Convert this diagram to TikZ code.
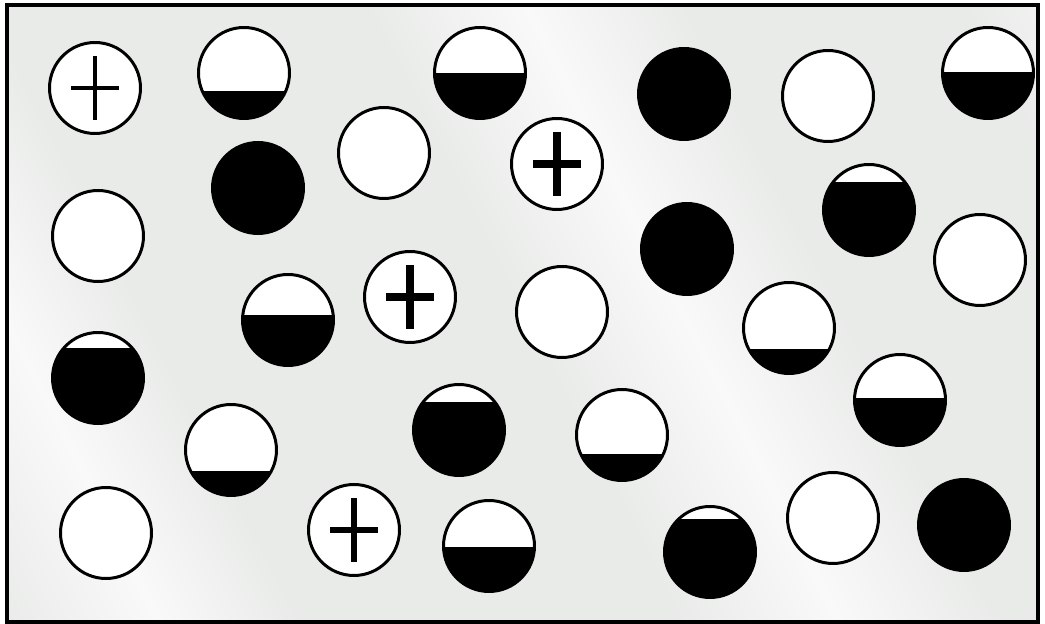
\documentclass[tikz,border=0pt]{standalone}
\usetikzlibrary{positioning}
\definecolor{haze}{RGB}{233,235,233}
\definecolor{glare}{RGB}{248,249,248}
\pgfdeclarehorizontalshading{sheen}{100bp}{color(0bp)=(haze); color(16bp)=(haze);
  color(24bp)=(glare); color(31bp)=(haze); color(50bp)=(haze); color(58bp)=(glare);
  color(66bp)=(haze); color(80bp)=(haze); color(88bp)=(glare); color(100bp)=(haze)}
\tikzset{
  ball/.style={circle,draw=black,line width=1.7pt,fill=white,minimum size=1.82cm,inner sep=0pt},
  dark/.style={ball,fill=black},
  % lower part black, chord #1 px below the centre
  part/.style={ball,path picture={
    \fill[black] (path picture bounding box.west) ++(0,#1) rectangle (path picture bounding box.south east);}},
  plus/.style={ball,path picture={
    \draw[line width=#1] (path picture bounding box.center) ++(0,-32) -- ++(0,64)
      (path picture bounding box.center) ++(-24,0) -- ++(48,0);}},
}

\begin{document}
\begin{tikzpicture}[x=0.02cm,y=-0.02cm]
  \useasboundingbox (0,0) rectangle (1045,624);
  \shade[shading=sheen,shading angle=27] (7,5) rectangle (1038,622);
  \draw[line width=2.3pt] (7,5) rectangle (1038,622);

  % empty
  \foreach \n/\x/\y in {w1/828/96,w2/384/153,w3/98/236,w4/980/260,w5/562/312,w6/106/533,w7/833/518}
    \node[ball] (\n) at (\x,\y) {};
  % full
  \foreach \n/\x/\y in {d1/684/94,d2/258/188,d3/687/249,d4/964/525}
    \node[dark] (\n) at (\x,\y) {};
  % partly full
  \foreach \n/\x/\y/\c in {h1/244/73/18,h2/480/73/0,h3/988/73/-1,h4/869/210/-28,h5/288/320/-5,
      h6/98/378/-30,h7/789/328/21,h8/900/400/-2,h9/231/450/21,h10/459/430/-28,
      h11/622/435/19,h12/489/546/1,h13/710/552/-33}
    \node[part=\c] (\n) at (\x,\y) {};
  % charged
  \foreach \n/\x/\y/\w in {p1/95/88/2pt,p2/557/164/4.5pt,p3/410/297/4.5pt,p4/354/530/3pt}
    \node[plus=\w] (\n) at (\x,\y) {};
\end{tikzpicture}
\end{document}
